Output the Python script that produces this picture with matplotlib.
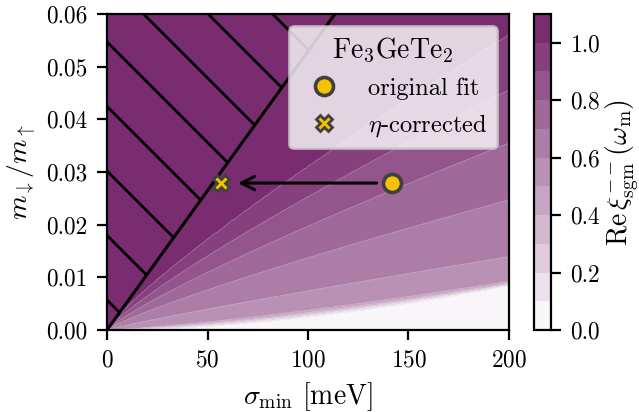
import numpy as np
import matplotlib
matplotlib.use("Agg")
import matplotlib.pyplot as plt
from matplotlib.colors import LinearSegmentedColormap
from matplotlib.patches import Polygon

plt.rcParams.update({
    "font.family": "serif",
    "font.serif": ["cmr10"],
    "mathtext.fontset": "cm",
    "axes.formatter.use_mathtext": True,
    "axes.unicode_minus": False,
    "font.size": 10,
    "xtick.labelsize": 8.4,
    "ytick.labelsize": 8.4,
})

# contour levels of Re xi (colour bands)
LEVELS = [0.0, 0.1, 0.2, 0.3, 0.4, 0.5, 0.6, 0.7, 0.8, 0.9, 1.0, 1.1]
# boundary of each level, read as m_down/m_up at sigma = 100 and 200 meV
BOUND_LEVELS = [0.1, 0.2, 0.3, 0.4, 0.5, 0.6, 0.7, 0.8, 0.9, 1.0]
BOUND_Y100 = [0.0025, 0.0028, 0.0030, 0.0033, 0.0037, 0.0074, 0.0137, 0.0197, 0.0253, 0.0310]
BOUND_Y200 = [0.0085, 0.0086, 0.0087, 0.0089, 0.0092, 0.0139, 0.0247, 0.0355, 0.0456, 0.0560]
TOP_VALUE = 1.07

# hatched (excluded) region: above the line through origin hitting y=0.06 here
BOUNDARY_X_AT_TOP = 113.4

# fit points
ORIG_FIT = (141.9, 0.0279)
ETA_CORR = (56.6, 0.0279)

XLIM = (0, 200)
YLIM = (0, 0.06)


def build_field(xs, ys):
    lv = np.array(BOUND_LEVELS)
    y1 = np.array(BOUND_Y100)
    y2 = np.array(BOUND_Y200)
    p = np.log(y2 / y1) / np.log(2.0)
    Z = np.zeros((len(ys), len(xs)))
    for j, x in enumerate(xs):
        yb = y2 * (x / 200.0) ** p
        xp = np.concatenate([[0.0], yb, [1.0]])
        fp = np.concatenate([[0.0], lv, [TOP_VALUE]])
        Z[:, j] = np.interp(ys, xp, fp)
    return Z


cmap = LinearSegmentedColormap.from_list("wp", ["#ffffff", "#73236a"])

fig = plt.figure(figsize=(639 / 200, 412 / 200), dpi=200)
ax = fig.add_axes([107 / 639, 82 / 412, 402 / 639, 316 / 412])
cax = fig.add_axes([534 / 639, 82 / 412, 17 / 639, 316 / 412])

xs = np.linspace(0.2, 200, 500)
ys = np.linspace(0, 0.06, 500)
X, Y = np.meshgrid(xs, ys)
Z = build_field(xs, ys)

cf = ax.contourf(X, Y, Z, levels=LEVELS, cmap=cmap, vmin=0, vmax=1.1)
ax.contour(X, Y, Z, levels=BOUND_LEVELS, colors="white", linewidths=0.3, alpha=0.35)

# excluded region with hatching
ax.plot([0, BOUNDARY_X_AT_TOP], [0, YLIM[1]], color="black", lw=1.1, zorder=3)
region = Polygon([[0, 0], [BOUNDARY_X_AT_TOP, YLIM[1]], [0, YLIM[1]]],
                 closed=True, facecolor="none", edgecolor="none")
ax.add_patch(region)
# 45 degree lines on screen, spaced like the reference
hslope = -(YLIM[1] / XLIM[1]) * (402 / 316)
spacing = 0.01225
for k in range(-1, 12):
    b = 0.0057 + k * spacing
    hl, = ax.plot([0, 200], [b, b + hslope * 200], color="black", lw=1.0, zorder=3)
    hl.set_clip_path(region)

# points and arrow
ax.plot(*ORIG_FIT, marker="o", ms=6.5, mfc="#f5c100", mec="#404040", mew=1.3,
        ls="none", zorder=5, label="original fit")
ax.plot(*ETA_CORR, marker="X", ms=6.0, mfc="#f5c100", mec="#404040", mew=1.0,
        ls="none", zorder=5, label=r"$\eta$-corrected")
ax.annotate("", xy=ETA_CORR, xytext=ORIG_FIT,
            arrowprops=dict(arrowstyle="->", color="black", lw=1.1,
                            shrinkA=5.6, shrinkB=6.2, mutation_scale=12),
            zorder=4)

ax.set_xlim(*XLIM)
ax.set_ylim(*YLIM)
ax.set_xticks([0, 50, 100, 150, 200])
ax.set_yticks([0.0, 0.01, 0.02, 0.03, 0.04, 0.05, 0.06])
ax.set_yticklabels(["0.00", "0.01", "0.02", "0.03", "0.04", "0.05", "0.06"])
ax.set_xlabel(r"$\sigma_\mathrm{min}$ [meV]", labelpad=3)
ax.set_ylabel(r"$m_\downarrow/m_\uparrow$", labelpad=3)

leg = ax.legend(title=r"Fe$_3$GeTe$_2$", loc="upper right", framealpha=0.8,
                fontsize=8.8, title_fontsize=10)
leg.get_frame().set_edgecolor("0.8")

cb = fig.colorbar(cf, cax=cax, ticks=[0.0, 0.2, 0.4, 0.6, 0.8, 1.0])
cb.set_label(r"$\mathrm{Re}\,\xi_\mathrm{sgm}^{--}(\omega_\mathrm{m})$", labelpad=1)
cb.ax.set_yticklabels(["0.0", "0.2", "0.4", "0.6", "0.8", "1.0"])
cb.ax.tick_params(labelsize=8.4)

fig.savefig("out.png", dpi=200)
